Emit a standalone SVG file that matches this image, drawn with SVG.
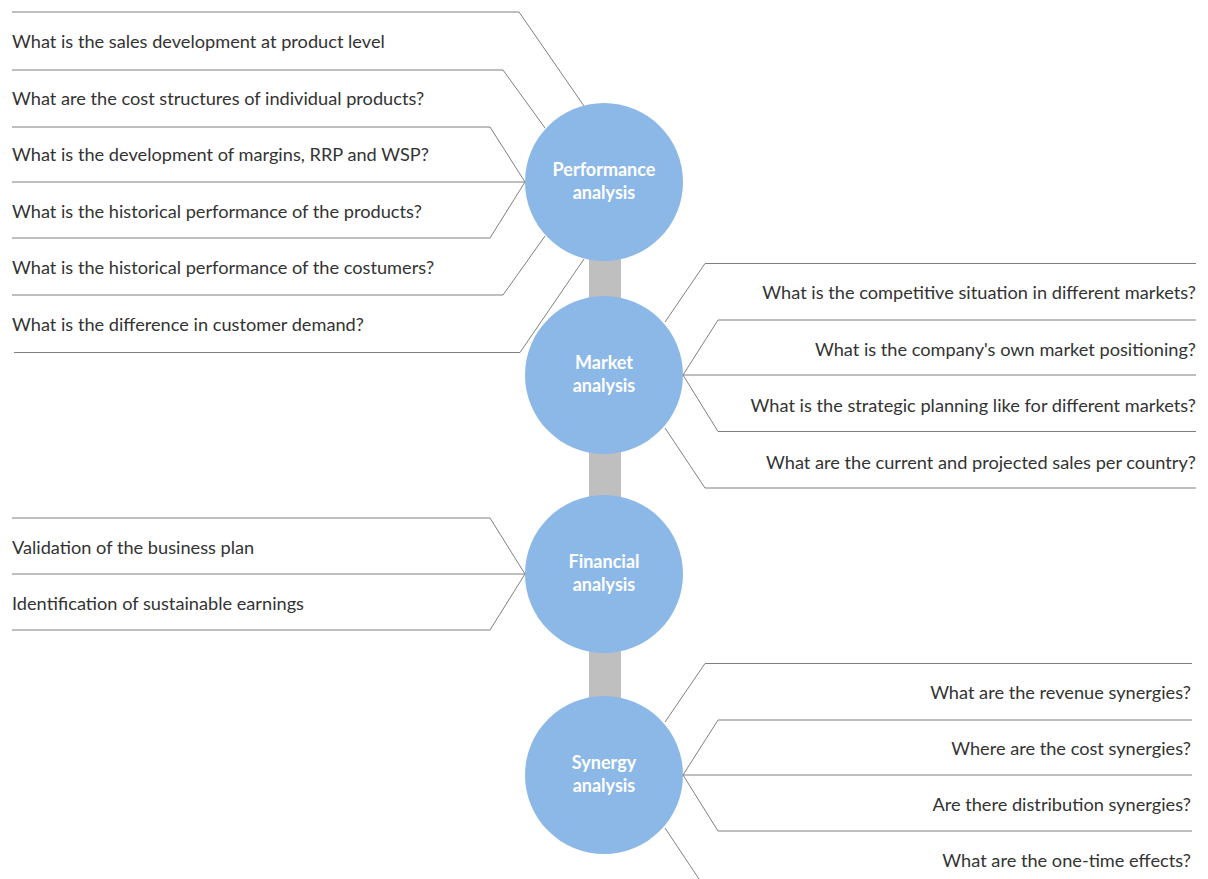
<svg xmlns="http://www.w3.org/2000/svg" width="1208" height="879" viewBox="0 0 1208 879">
<style>
.bg{fill:#ffffff}
.bar{fill:#bfbfbf}
.node circle{fill:#8cb8e8}
.node text{fill:#ffffff;font-family:Lato,"Liberation Sans",sans-serif;font-size:18px;font-weight:bold;text-anchor:middle}
.conn path{fill:none;stroke:#7f7f7f;stroke-width:1}
.lbl{fill:#333333;font-family:Lato,"Liberation Sans",sans-serif;font-size:18.2px}
.r{text-anchor:end}
</style>
<rect class="bg" x="0" y="0" width="1208" height="879"/>
<rect class="bar" x="589" y="182" width="32" height="593"/>
<g id="connectors" class="conn">
<path d="M12 12 H519 L584 106"/>
<path d="M12 70 H503 L545 128"/>
<path d="M12 127 H490 L525 182"/>
<path d="M12 182 H525"/>
<path d="M12 238 H490 L525 182"/>
<path d="M12 295 H503 L545 236"/>
<path d="M14 352.5 H520 L584 259"/>
<path d="M1196 263.5 H705 L665 322"/>
<path d="M1196 320 H718 L683 375"/>
<path d="M1196 375 H683"/>
<path d="M1196 431.5 H718 L683 375"/>
<path d="M1196 488 H705 L665 428"/>
<path d="M12 518 H490 L525 574"/>
<path d="M12 574 H525"/>
<path d="M12 630 H490 L525 574"/>
<path d="M1192 663.5 H705 L665 722"/>
<path d="M1192 720 H718 L683 775"/>
<path d="M1192 775 H683"/>
<path d="M1192 831 H718 L683 775"/>
<path d="M665 828 L705 888"/>
</g>
<g id="labels-performance">
<text class="lbl" x="12" y="48">What is the sales development at product level</text>
<text class="lbl" x="12" y="105">What are the cost structures of individual products?</text>
<text class="lbl" x="12" y="161">What is the development of margins, RRP and WSP?</text>
<text class="lbl" x="12" y="218">What is the historical performance of the products?</text>
<text class="lbl" x="12" y="274">What is the historical performance of the costumers?</text>
<text class="lbl" x="12" y="331">What is the difference in customer demand?</text>
</g>
<g id="labels-market">
<text class="lbl r" x="1196" y="299">What is the competitive situation in different markets?</text>
<text class="lbl r" x="1196" y="356">What is the company's own market positioning?</text>
<text class="lbl r" x="1196" y="412">What is the strategic planning like for different markets?</text>
<text class="lbl r" x="1196" y="469">What are the current and projected sales per country?</text>
</g>
<g id="labels-financial">
<text class="lbl" x="12" y="554">Validation of the business plan</text>
<text class="lbl" x="12" y="610">Identification of sustainable earnings</text>
</g>
<g id="labels-synergy">
<text class="lbl r" x="1191" y="699">What are the revenue synergies?</text>
<text class="lbl r" x="1191" y="755">Where are the cost synergies?</text>
<text class="lbl r" x="1191" y="811">Are there distribution synergies?</text>
<text class="lbl r" x="1191" y="867">What are the one-time effects?</text>
</g>
<g id="node-performance" class="node">
<circle cx="604" cy="182" r="79"/>
<text x="604" y="176">Performance</text>
<text x="604" y="199">analysis</text>
</g>
<g id="node-market" class="node">
<circle cx="604" cy="375" r="79"/>
<text x="604" y="369">Market</text>
<text x="604" y="392">analysis</text>
</g>
<g id="node-financial" class="node">
<circle cx="604" cy="574" r="79"/>
<text x="604" y="568">Financial</text>
<text x="604" y="591">analysis</text>
</g>
<g id="node-synergy" class="node">
<circle cx="604" cy="775" r="79"/>
<text x="604" y="769">Synergy</text>
<text x="604" y="792">analysis</text>
</g>
</svg>
